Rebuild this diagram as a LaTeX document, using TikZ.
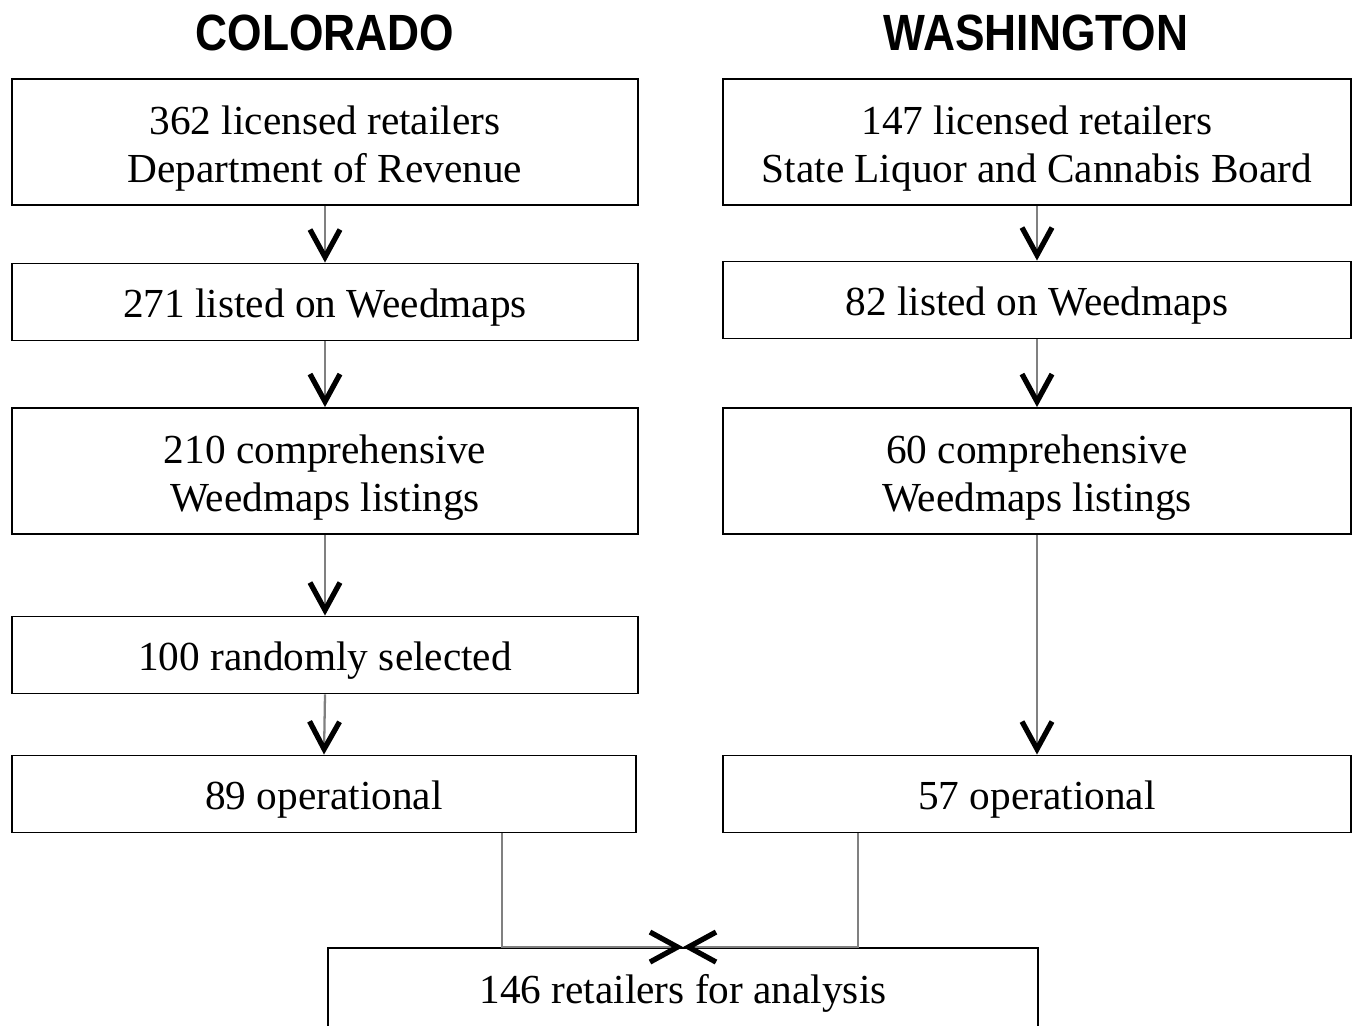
\documentclass[tikz,border=0pt]{standalone}
\usepackage{fontspec}
\setmainfont{Liberation Serif}
\setsansfont{Liberation Sans}
\usetikzlibrary{arrows.meta}

\tikzset{
 stepbox/.style={draw, line width=1.1pt, align=center, inner sep=0pt,
  font=\fontsize{23.5}{27.3}\selectfont},
 tallbox/.style={stepbox, minimum height=2.52cm, text height=51pt, text depth=5pt},
 flatbox/.style={stepbox, minimum height=1.54cm, text height=23pt, text depth=5pt},
 statetitle/.style={font=\sffamily\bfseries\fontsize{29}{30}\selectfont},
 flow/.style={draw=gray, line width=1.3pt,
  -{Straight Barb[length=0.55cm, width=0.6cm, line width=3pt, color=black]}}
}

\begin{document}
\begin{tikzpicture}[x=0.02cm, y=-0.02cm]
\useasboundingbox (0,0) rectangle (1358,1025);

% titles
\node [statetitle] (tco) at (325,33) {\scalebox{0.87}[1]{COLORADO}};
\node [statetitle] (twa) at (1036,33) {\scalebox{0.87}[1]{WASHINGTON}};

% colorado
\node [tallbox, minimum width=12.52cm] (c1) at (325,142) {362 licensed retailers\\Department of Revenue};
\node [flatbox, minimum width=12.52cm] (c2) at (325,302) {271 listed on Weedmaps};
\node [tallbox, minimum width=12.52cm] (c3) at (325,471) {210 comprehensive\\Weedmaps listings};
\node [flatbox, minimum width=12.52cm] (c4) at (325,655) {100 randomly selected};
\node [flatbox, minimum width=12.48cm] (c5) at (324,794) {89 operational};

% washington
\node [tallbox, minimum width=12.56cm] (w1) at (1037,142) {147 licensed retailers\\State Liquor and Cannabis Board};
\node [flatbox, minimum width=12.56cm] (w2) at (1037,300) {82 listed on Weedmaps};
\node [tallbox, minimum width=12.56cm] (w3) at (1037,471) {60 comprehensive\\Weedmaps listings};
\node [flatbox, minimum width=12.56cm] (w5) at (1037,794) {57 operational};

\node [stepbox, minimum width=14.2cm, minimum height=1.6cm, text height=23pt, text depth=5pt] (tot) at (683,988) {146 retailers for analysis};

\draw [flow] (c1.south) -- (c2.north);
\draw [flow] (c2.south) -- (c3.north);
\draw [flow] (c3.south) -- (c4.north);
\draw [flow] (c4.south) -- (c5.north);

\draw [flow] (w1.south) -- (w2.north);
\draw [flow] (w2.south) -- (w3.north);
\draw [flow] (w3.south) -- (w5.north);

% join
\draw [flow] ([xshift=3.56cm]c5.south) |- (tot.north);
\draw [flow] ([xshift=-3.58cm]w5.south) |- (tot.north);
\end{tikzpicture}
\end{document}
